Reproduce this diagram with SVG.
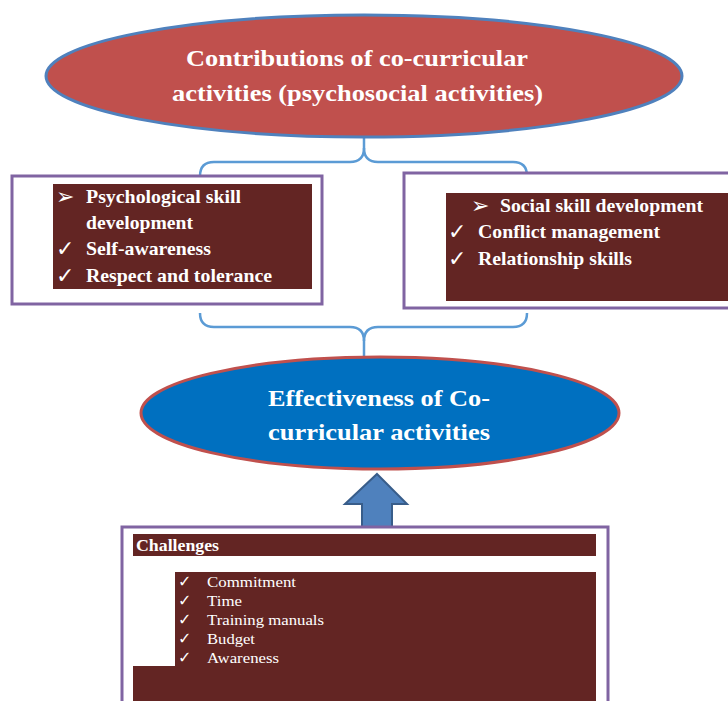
<svg xmlns="http://www.w3.org/2000/svg" width="728" height="701" viewBox="0 0 728 701">
<defs>
<style>
.frame{fill:#fff;stroke:#8064A2;stroke-width:3}
.dark{fill:#632523}
.brace{fill:none;stroke:#5B9BD5;stroke-width:2.5}
.s{font-family:'DejaVu Sans',sans-serif;fill:#fff}
.t{font-family:'Liberation Serif',serif;fill:#fff}
</style>
</defs>
<rect width="728" height="701" fill="#fff"/>
<g id="connectors">
<path class="brace" d="M364,138 L364,148 Q364,162 350,162 L214,162 Q200,162 200,176"/>
<path class="brace" d="M364,148 Q364,162 378,162 L513,162 Q527,162 527,176"/>
<path class="brace" d="M200,313 Q200,327 214,327 L350,327 Q364,327 364,341 L364,357"/>
<path class="brace" d="M527,313 Q527,327 513,327 L378,327 Q364,327 364,341"/>
<path d="M377,474 L407,504 L392,504 L392,530 L362,530 L362,504 L345,504 Z" fill="#4F81BD" stroke="#385D8A" stroke-width="2"/>
</g>
<g id="contributions">
<ellipse cx="364" cy="76" rx="318" ry="61" fill="#C0504D" stroke="#4F81BD" stroke-width="3"/>
<g class="t" font-weight="bold" font-size="23">
<text x="186" y="66" textLength="342" lengthAdjust="spacingAndGlyphs">Contributions of co-curricular</text>
<text x="172" y="101" textLength="371" lengthAdjust="spacingAndGlyphs">activities (psychosocial activities)</text>
</g>
</g>
<g id="psychological">
<rect class="frame" x="12" y="176" width="310" height="128"/>
<rect class="dark" x="53" y="184" width="259" height="105"/>
<g class="s" font-size="22">
<text x="56" y="204">➢</text>
<text x="56" y="256">✓</text>
<text x="56" y="283">✓</text>
</g>
<g class="t" font-weight="bold" font-size="19">
<text x="86" y="203" textLength="155" lengthAdjust="spacingAndGlyphs">Psychological skill</text>
<text x="86" y="229" textLength="107" lengthAdjust="spacingAndGlyphs">development</text>
<text x="86" y="255" textLength="125" lengthAdjust="spacingAndGlyphs">Self-awareness</text>
<text x="86" y="282" textLength="186" lengthAdjust="spacingAndGlyphs">Respect and tolerance</text>
</g>
</g>
<g id="social">
<rect class="frame" x="404" y="173" width="330" height="135"/>
<rect class="dark" x="446" y="193" width="290" height="108"/>
<g class="s" font-size="22">
<text x="471" y="213">➢</text>
<text x="448" y="239">✓</text>
<text x="448" y="266">✓</text>
</g>
<g class="t" font-weight="bold" font-size="19">
<text x="500" y="212" textLength="203" lengthAdjust="spacingAndGlyphs">Social skill development</text>
<text x="478" y="238" textLength="182" lengthAdjust="spacingAndGlyphs">Conflict management</text>
<text x="478" y="265" textLength="154" lengthAdjust="spacingAndGlyphs">Relationship skills</text>
</g>
</g>
<g id="effectiveness">
<ellipse cx="380" cy="413" rx="239" ry="56" fill="#0070C0" stroke="#C0504D" stroke-width="3"/>
<g class="t" font-weight="bold" font-size="23">
<text x="268" y="406" textLength="222" lengthAdjust="spacingAndGlyphs">Effectiveness of Co-</text>
<text x="268" y="440" textLength="222" lengthAdjust="spacingAndGlyphs">curricular activities</text>
</g>
</g>
<g id="challenges">
<rect class="frame" x="122" y="527" width="486" height="180"/>
<rect class="dark" x="133" y="534" width="463" height="22"/>
<text class="t" x="136" y="551" font-weight="bold" font-size="16" textLength="83" lengthAdjust="spacingAndGlyphs">Challenges</text>
<path class="dark" d="M175,572 L596,572 L596,701 L133,701 L133,666 L175,666 Z"/>
<g class="s" font-size="16">
<text x="178" y="587">✓</text>
<text x="178" y="606">✓</text>
<text x="178" y="625">✓</text>
<text x="178" y="644">✓</text>
<text x="178" y="663">✓</text>
</g>
<g class="t" font-size="15">
<text x="207" y="587" textLength="89" lengthAdjust="spacingAndGlyphs">Commitment</text>
<text x="207" y="606" textLength="35" lengthAdjust="spacingAndGlyphs">Time</text>
<text x="207" y="625" textLength="117" lengthAdjust="spacingAndGlyphs">Training manuals</text>
<text x="207" y="644" textLength="48" lengthAdjust="spacingAndGlyphs">Budget</text>
<text x="207" y="663" textLength="72" lengthAdjust="spacingAndGlyphs">Awareness</text>
</g>
</g>
</svg>
